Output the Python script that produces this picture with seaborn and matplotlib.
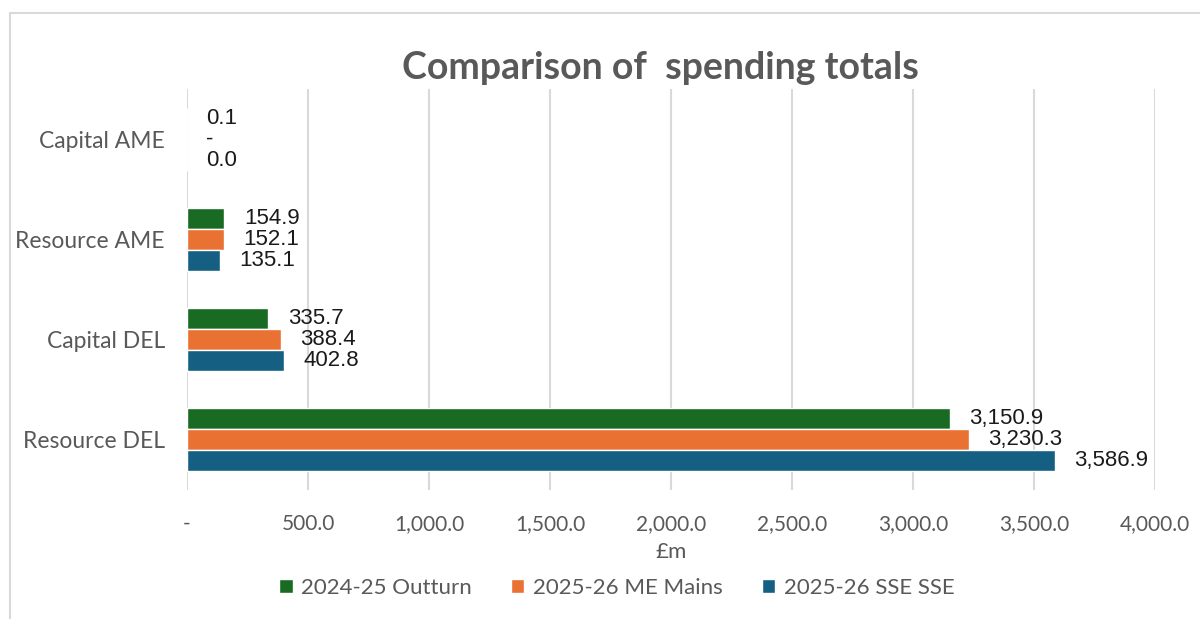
import matplotlib
matplotlib.use("Agg")
import matplotlib.pyplot as plt
from matplotlib.lines import Line2D
import seaborn as sns
import pandas as pd

# Spending totals (£m) by control total and budget stage
categories = ["Capital AME", "Resource AME", "Capital DEL", "Resource DEL"]
series = ["2024-25 Outturn", "2025-26 ME Mains", "2025-26 SSE SSE"]
outturn_2024_25 = [0.1, 154.9, 335.7, 3150.9]
me_mains_2025_26 = [0.0, 152.1, 388.4, 3230.3]
sse_2025_26 = [0.04, 135.1, 402.8, 3586.9]
x_ticks = [0, 500, 1000, 1500, 2000, 2500, 3000, 3500, 4000]

colors = ["#196B24", "#E97132", "#156082"]
grey = "#595959"

rows = []
for name, vals in zip(series, [outturn_2024_25, me_mains_2025_26, sse_2025_26]):
    for cat, v in zip(categories, vals):
        rows.append({"category": cat, "series": name, "value": v})
df = pd.DataFrame(rows)

sns.set_theme(style="white")
plt.rcParams["font.family"] = ["Lato", "DejaVu Sans"]

fig = plt.figure(figsize=(12, 6.19), dpi=100)
ax = fig.add_axes([187 / 1200, 1 - 490 / 619, (1155 - 187) / 1200, (490 - 89) / 619])

sns.barplot(data=df, y="category", x="value", hue="series", order=categories,
            hue_order=series, palette=colors, orient="h", width=0.63,
            saturation=1, legend=True, ax=ax)

ax.set_xlim(0, 4000)
ax.set_ylim(3.5, -0.5)
ax.set_xticks(x_ticks)
ax.set_xticklabels(["-" if t == 0 else f"{t:,.1f}" for t in x_ticks],
                   fontsize=15, color=grey)
ax.tick_params(axis="x", pad=17, length=0)
ax.tick_params(axis="y", pad=16, length=0)
for lbl in ax.get_yticklabels():
    lbl.set_fontsize(16.5)
    lbl.set_color(grey)
ax.set_ylabel("")
ax.set_xlabel("£m", fontsize=16, color=grey, labelpad=6)
ax.xaxis.grid(True, color="#D9D9D9", linewidth=1.5)
ax.yaxis.grid(False)
ax.set_axisbelow(True)
for s in ax.spines.values():
    s.set_visible(False)

# Value labels at bar ends, zero shown as a dash
for container in ax.containers:
    labels = ["-" if v == 0 else f"{v:,.1f}" for v in container.datavalues]
    ax.bar_label(container, labels=labels, padding=14, fontsize=16,
                 color="#1a1a1a", family=["Liberation Sans", "DejaVu Sans"])

handles, texts = ax.get_legend_handles_labels()
ax.get_legend().remove()
fig.legend(handles, texts, loc="center", bbox_to_anchor=(617 / 1200, 1 - 588 / 619),
           ncol=3, frameon=False, fontsize=16, labelcolor=grey,
           handlelength=0.6, handleheight=0.6, handletextpad=0.4, columnspacing=1.75)

fig.text(660 / 1200, 1 - 68 / 619, "Comparison of  spending totals",
         ha="center", va="center", fontsize=27, fontweight="bold", color=grey)

# Chart area outline
fig.add_artist(Line2D([10 / 1200, 10 / 1200], [0, 1 - 13 / 619],
                      transform=fig.transFigure, color="#D9D9D9", linewidth=1.5))
fig.add_artist(Line2D([10 / 1200, 1], [1 - 13 / 619, 1 - 13 / 619],
                      transform=fig.transFigure, color="#D9D9D9", linewidth=1.5))

fig.savefig("out.png", dpi=100, facecolor="white")
